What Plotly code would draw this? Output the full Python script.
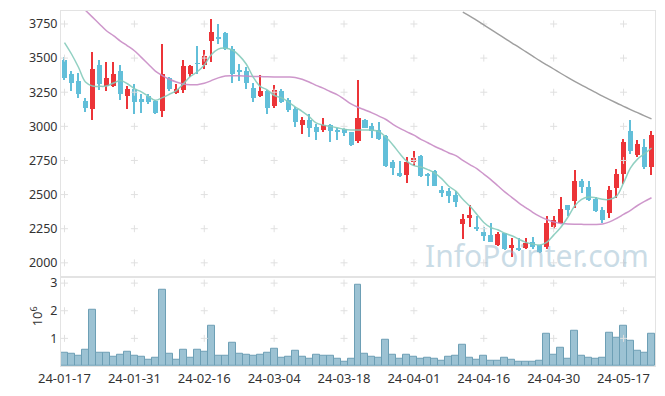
import plotly.graph_objects as go
from plotly.subplots import make_subplots

DATES = [
"2024-01-17","2024-01-18","2024-01-19","2024-01-22","2024-01-23","2024-01-24","2024-01-25","2024-01-26","2024-01-29","2024-01-30",
"2024-01-31","2024-02-01","2024-02-02","2024-02-05","2024-02-06","2024-02-07","2024-02-08","2024-02-13","2024-02-14","2024-02-15",
"2024-02-16","2024-02-19","2024-02-20","2024-02-21","2024-02-22","2024-02-23","2024-02-26","2024-02-27","2024-02-28","2024-02-29",
"2024-03-04","2024-03-05","2024-03-06","2024-03-07","2024-03-08","2024-03-11","2024-03-12","2024-03-13","2024-03-14","2024-03-15",
"2024-03-18","2024-03-19","2024-03-20","2024-03-21","2024-03-22","2024-03-25","2024-03-26","2024-03-27","2024-03-28","2024-03-29",
"2024-04-01","2024-04-02","2024-04-03","2024-04-04","2024-04-05","2024-04-08","2024-04-09","2024-04-11","2024-04-12","2024-04-15",
"2024-04-16","2024-04-17","2024-04-18","2024-04-19","2024-04-22","2024-04-23","2024-04-24","2024-04-25","2024-04-26","2024-04-29",
"2024-04-30","2024-05-02","2024-05-03","2024-05-07","2024-05-08","2024-05-09","2024-05-10","2024-05-13","2024-05-14","2024-05-16",
"2024-05-17","2024-05-20","2024-05-21","2024-05-22","2024-05-23"]

OPEN = [3489,3385,3333,3184,3124,3452,3298,3298,3409,3223,
        3276,3198,3223,3184,3115,3356,3245,3264,3380,3462,
        3452,3622,3658,3681,3567,3415,3409,3284,3223,3256,
        3148,3256,3191,3126,3010,3046,2997,2973,3009,2973,
        2978,2956,2893,3046,3002,2973,2930,2741,2658,2646,
        2736,2784,2652,2671,2537,2523,2497,2285,2329,2258,
        2227,2205,2131,2216,2107,2107,2107,2155,2131,2118,
        2264,2290,2421,2452,2603,2557,2471,2385,2363,2545,
        2654,2966,2792,2845,2700]
HIGH = [3506,3405,3390,3210,3547,3486,3469,3469,3452,3298,
        3307,3235,3235,3191,3602,3365,3312,3486,3452,3590,
        3559,3784,3753,3690,3590,3457,3433,3317,3373,3264,
        3300,3270,3209,3143,3065,3094,3020,3058,3015,2985,
        2990,2960,3341,3055,3022,3034,2940,2755,2743,2772,
        2820,2790,2658,2678,2561,2550,2526,2361,2423,2344,
        2259,2295,2223,2220,2182,2182,2180,2190,2131,2344,
        2344,2484,2421,2683,2617,2600,2480,2412,2566,2688,
        2906,3046,2900,2906,2968]
LOW = [3336,3260,3210,3104,3046,3264,3259,3289,3191,3124,
       3094,3099,3167,3089,3071,3259,3235,3245,3361,3385,
       3422,3469,3602,3560,3317,3332,3276,3180,3216,3094,
       3131,3170,3107,2993,2944,2920,2900,2962,2888,2900,
       2930,2857,2877,2985,2914,2900,2705,2646,2630,2586,
       2712,2630,2561,2560,2484,2441,2412,2174,2266,2235,
       2162,2150,2125,2095,2041,2090,2100,2100,2070,2102,
       2250,2283,2340,2404,2508,2455,2375,2295,2325,2472,
       2574,2799,2775,2688,2646]
CLOSE = [3356,3318,3235,3135,3422,3307,3351,3380,3235,3271,
         3180,3180,3180,3099,3385,3271,3276,3445,3445,3457,
         3518,3694,3646,3567,3380,3398,3317,3209,3256,3135,
         3264,3180,3118,3034,3046,2991,2962,3009,2968,2962,
         2954,2864,3058,2991,2968,2908,2712,2692,2639,2741,
         2769,2634,2634,2566,2513,2487,2449,2320,2351,2250,
         2199,2155,2211,2102,2131,2094,2145,2114,2078,2290,
         2312,2392,2387,2598,2557,2461,2380,2314,2532,2654,
         2888,2823,2871,2700,2937]

VOLUME_M = [0.47,0.43,0.36,0.58,2.04,0.47,0.47,0.33,0.40,0.51,
            0.36,0.33,0.22,0.29,2.76,0.43,0.22,0.58,0.29,0.58,
            0.51,1.44,0.36,0.36,0.83,0.43,0.40,0.36,0.40,0.47,
            0.61,0.29,0.33,0.54,0.33,0.26,0.40,0.36,0.36,0.26,
            0.15,0.26,2.95,0.43,0.33,0.29,0.94,0.40,0.26,0.40,
            0.33,0.26,0.29,0.26,0.19,0.33,0.36,0.76,0.29,0.22,
            0.36,0.19,0.19,0.29,0.22,0.15,0.15,0.15,0.19,1.15,
            0.40,0.65,0.26,1.26,0.36,0.29,0.26,0.29,1.19,1.01,
            1.47,0.90,0.54,0.47,1.15]

MA5 = [3614,3530,3433,3324,3295,3293,3295,3317,3336,3312,
       3276,3252,3220,3191,3210,3235,3262,3310,3365,3400,
       3450,3525,3566,3573,3559,3518,3457,3361,3293,3268,
       3227,3210,3180,3143,3110,3072,3025,3009,3000,2990,
       2978,2973,2973,2973,2973,2961,2920,2864,2799,2743,
       2712,2702,2683,2658,2615,2561,2525,2465,2416,2356,
       2296,2259,2242,2218,2198,2174,2150,2138,2131,2150,
       2203,2259,2332,2416,2465,2482,2477,2465,2465,2489,
       2586,2695,2760,2799,2841]
MA20 = [None,None,None,3850,3800,3750,3700,3665,3625,3590,
        3554,3505,3455,3405,3372,3345,3325,3310,3305,3305,
        3315,3335,3355,3368,3370,3370,3368,3366,3365,3363,
        3362,3362,3361,3358,3345,3325,3300,3280,3255,3232,
        3200,3165,3140,3120,3099,3075,3050,3015,2985,2960,
        2935,2905,2880,2852,2830,2805,2785,2750,2719,2690,
        2650,2610,2565,2520,2480,2440,2405,2370,2340,2318,
        2300,2288,2285,2283,2282,2281,2281,2285,2300,2325,
        2355,2385,2420,2450,2477]
MA60 = [None]*57 + [3837,3808,3776,3743,3710,3678,3645,3612,3580,3547,
                    3514,3481,3450,3420,3389,3359,3330,3302,3274,3248,
                    3221,3196,3171,3147,3123,3100,3077,3054]

PRICE_TICKS = [2000, 2250, 2500, 2750, 3000, 3250, 3500, 3750]
VOL_TICKS = [1, 2, 3]
X_TICK_LABELS = ["24-01-17","24-01-31","24-02-16","24-03-04","24-03-18",
                 "24-04-01","24-04-16","24-04-30","24-05-17"]

UP = "#ec3438"
DOWN = "#62bfd9"
FONT = "Noto Sans"

fig = make_subplots(rows=2, cols=1, shared_xaxes=True, vertical_spacing=0,
                    row_heights=[0.7486, 0.2514])

tick_dates = DATES[::10]
colors = [UP if c >= o else DOWN for o, c in zip(OPEN, CLOSE)]

# grid crosses (drawn first, behind marks)
gx, gy = [], []
for d in tick_dates:
    for v in PRICE_TICKS:
        gx.append(d); gy.append(v)
fig.add_trace(go.Scatter(x=gx, y=gy, mode="markers",
                         marker=dict(symbol="cross-thin", size=5, line=dict(color="#e0e0e0", width=1)),
                         hoverinfo="skip"), row=1, col=1)
vx, vy = [], []
for d in tick_dates:
    for v in VOL_TICKS:
        vx.append(d); vy.append(v * 1e6)
fig.add_trace(go.Scatter(x=vx, y=vy, mode="markers",
                         marker=dict(symbol="cross-thin", size=5, line=dict(color="#e0e0e0", width=1)),
                         hoverinfo="skip"), row=2, col=1)

# wicks
fig.add_trace(go.Bar(x=DATES, y=[h - l for h, l in zip(HIGH, LOW)], base=LOW, width=0.17,
                     marker=dict(color=colors, line=dict(width=0)), hoverinfo="skip"), row=1, col=1)
# bodies
body_base = [min(o, c) for o, c in zip(OPEN, CLOSE)]
body_h = [max(abs(c - o), 6) for o, c in zip(OPEN, CLOSE)]
fig.add_trace(go.Bar(x=DATES, y=body_h, base=body_base, width=0.72,
                     marker=dict(color=colors, line=dict(width=0))), row=1, col=1)

fig.add_trace(go.Bar(x=DATES, y=[v * 1e6 for v in VOLUME_M], width=1.0,
                     marker=dict(color="#9cc2d3", line=dict(color="#6d9fb5", width=1))), row=2, col=1)

fig.add_trace(go.Scatter(x=DATES, y=MA60, mode="lines", line=dict(color="#9a9a9a", width=1.4, shape="spline"),
                         opacity=0.95), row=1, col=1)
fig.add_trace(go.Scatter(x=DATES, y=MA20, mode="lines", line=dict(color="#c98cc6", width=1.5, shape="spline"),
                         opacity=0.9), row=1, col=1)
fig.add_trace(go.Scatter(x=DATES, y=MA5, mode="lines", line=dict(color="#86ccbc", width=1.5, shape="spline"),
                         opacity=0.9), row=1, col=1)

axis_common = dict(showgrid=False, zeroline=False, showline=True, mirror=True,
                   linecolor="#e3e3e3", linewidth=1, ticks="")
fig.update_xaxes(type="category", categoryorder="array", categoryarray=DATES,
                 range=[-0.5, len(DATES) - 0.5], **axis_common)
fig.update_xaxes(showticklabels=False, row=1, col=1)
fig.update_xaxes(tickmode="array", tickvals=tick_dates, ticktext=X_TICK_LABELS, tickangle=0,
                 tickfont=dict(family=FONT, size=13, color="#333333"), row=2, col=1)
fig.update_yaxes(range=[1898, 3845], tickmode="array", tickvals=PRICE_TICKS,
                 ticktext=[str(v) for v in PRICE_TICKS],
                 tickfont=dict(family=FONT, size=12.5, color="#333333"), **axis_common, row=1, col=1)
fig.update_yaxes(range=[0, 3.23e6], tickmode="array", tickvals=[v * 1e6 for v in VOL_TICKS],
                 ticktext=[str(v) for v in VOL_TICKS],
                 tickfont=dict(family=FONT, size=12.5, color="#333333"), **axis_common, row=2, col=1)

fig.add_annotation(text="InfoPointer.com", xref="paper", yref="paper", x=0.8017, y=0.31,
                   showarrow=False, xanchor="center", yanchor="middle",
                   font=dict(family=FONT, size=30, color="rgba(150,185,205,0.5)"))
fig.add_annotation(text="10<sup>6</sup>", xref="paper", yref="paper", x=-0.042, y=0.14,
                   showarrow=False, textangle=-90, xanchor="center", yanchor="middle",
                   font=dict(family=FONT, size=13, color="#333333"))

fig.update_layout(width=665, height=396, margin=dict(l=61, r=9, t=10, b=28),
                  plot_bgcolor="white", paper_bgcolor="white", showlegend=False,
                  barmode="overlay", bargap=0)

fig.write_html("out.html", config={"displayModeBar": False},
               post_script="document.body.style.margin='0';document.body.style.overflow='hidden';")
